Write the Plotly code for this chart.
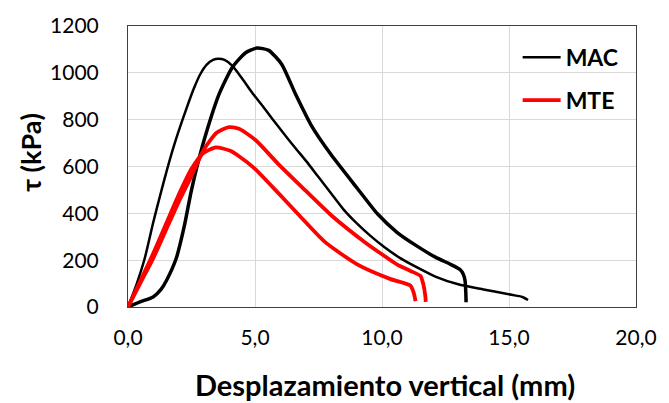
import plotly.graph_objects as go

# Shear stress vs vertical displacement, two tests per material
mac_a_x = [0, 0.34, 0.66, 0.99, 1.25, 1.57, 1.9, 2.29, 2.6, 2.85, 3.1, 3.35, 3.56, 3.8, 4.11, 4.5,
           4.89, 5.3, 5.67, 6.1, 6.58, 7.0, 7.5, 8.0, 8.5, 9.0, 9.5, 10.1, 10.7, 11.4, 12.1, 13.0, 14.0,
           15.1, 15.5, 15.75]
mac_a_y = [0, 98, 208, 360, 470, 600, 720, 844, 935, 995, 1035, 1055, 1060, 1055, 1030, 975,
           915, 858, 805, 745, 680, 625, 555, 485, 415, 358, 308, 255, 210, 168, 130, 97, 75,
           52, 44, 30]

mac_b_x = [0, 0.47, 0.99, 1.3, 1.51, 1.9, 2.22, 2.48, 2.74, 3.07, 3.59, 4.11, 4.63, 5.08, 5.54, 6.05,
           6.58, 7.22, 8.0, 9.04, 9.82, 10.6, 11.38, 12.1, 12.7, 13.07, 13.2, 13.27, 13.3, 13.31]
mac_b_y = [0, 22, 43, 75, 112, 208, 347, 490, 610, 740, 910, 1024, 1086, 1106, 1096, 1037,
           913, 775, 650, 505, 398, 318, 260, 213, 182, 160, 140, 112, 60, 20]

mte_a_x = [0, 0.5, 1.0, 1.5, 2.0, 2.5, 3.0, 3.5, 3.98, 4.37, 5.02, 5.93, 6.97, 8.0, 9.31, 10.0, 10.6,
           11.1, 11.51, 11.62, 11.71, 11.72]
mte_a_y = [0, 105, 210, 330, 450, 560, 675, 745, 768, 761, 713, 609, 499, 392, 278, 225, 181,
           155, 133, 100, 43, 22]

mte_b_x = [0, 0.5, 1.0, 1.5, 2.0, 2.5, 2.94, 3.46, 4.0, 4.37, 5.0, 5.93, 6.71, 7.75, 9.04, 10.34,
           11.12, 11.25, 11.32]
mte_b_y = [0, 115, 230, 355, 480, 590, 655, 682, 668, 644, 590, 485, 395, 278, 181, 119,
           91, 60, 25]

x_ticks = [0, 5, 10, 15, 20]
x_tick_text = ["0,0", "5,0", "10,0", "15,0", "20,0"]
y_ticks = [0, 200, 400, 600, 800, 1000, 1200]

FONT = "Lato"

fig = go.Figure()
fig.add_trace(go.Scatter(x=mac_a_x, y=mac_a_y, mode="lines", name="MAC", legendgroup="MAC",
                         line=dict(color="black", width=2.5, shape="spline", smoothing=0.6)))
fig.add_trace(go.Scatter(x=mac_b_x, y=mac_b_y, mode="lines", name="MAC", legendgroup="MAC",
                         showlegend=False,
                         line=dict(color="black", width=3.5, shape="spline", smoothing=0.6)))
fig.add_trace(go.Scatter(x=mte_a_x, y=mte_a_y, mode="lines", name="MTE", legendgroup="MTE",
                         line=dict(color="#ff0000", width=3.8, shape="spline", smoothing=0.6)))
fig.add_trace(go.Scatter(x=mte_b_x, y=mte_b_y, mode="lines", name="MTE", legendgroup="MTE",
                         showlegend=False,
                         line=dict(color="#ff0000", width=3.8, shape="spline", smoothing=0.6)))

fig.update_layout(
    width=669, height=403,
    margin=dict(l=128, r=28, t=18, b=96),
    paper_bgcolor="white", plot_bgcolor="white",
    font=dict(family=FONT, color="black"),
    legend=dict(x=0.767, y=0.965, xanchor="left", yanchor="top", itemwidth=38,
                bgcolor="rgba(255,255,255,0)", tracegroupgap=10,
                font=dict(family=FONT, size=23, color="black", weight="bold")),
    xaxis=dict(range=[0, 20], tickvals=x_ticks, ticktext=x_tick_text,
               showgrid=True, gridcolor="#d9d9d9", gridwidth=1,
               showline=True, linecolor="#404040", linewidth=1, mirror=True,
               zeroline=False, ticks="", ticklabelstandoff=12,
               tickfont=dict(family=FONT, size=21, color="black")),
    yaxis=dict(range=[0, 1200], tickvals=y_ticks,
               showgrid=True, gridcolor="#d9d9d9", gridwidth=1,
               showline=True, linecolor="#404040", linewidth=1, mirror=True,
               zeroline=False, ticks="", ticklabelstandoff=24,
               tickfont=dict(family=FONT, size=21, color="black")),
    annotations=[
        dict(text="Desplazamiento vertical (mm)", xref="paper", yref="paper",
             x=0.505, y=-0.275, xanchor="center", yanchor="middle", showarrow=False,
             font=dict(family=FONT, size=29, color="black", weight="bold")),
        dict(text="τ (kPa)", xref="paper", yref="paper", textangle=-90,
             x=-0.191, y=0.552, xanchor="center", yanchor="middle", showarrow=False,
             font=dict(family=FONT, size=27, color="black", weight="bold")),
    ],
)

fig.write_html("out.html")
